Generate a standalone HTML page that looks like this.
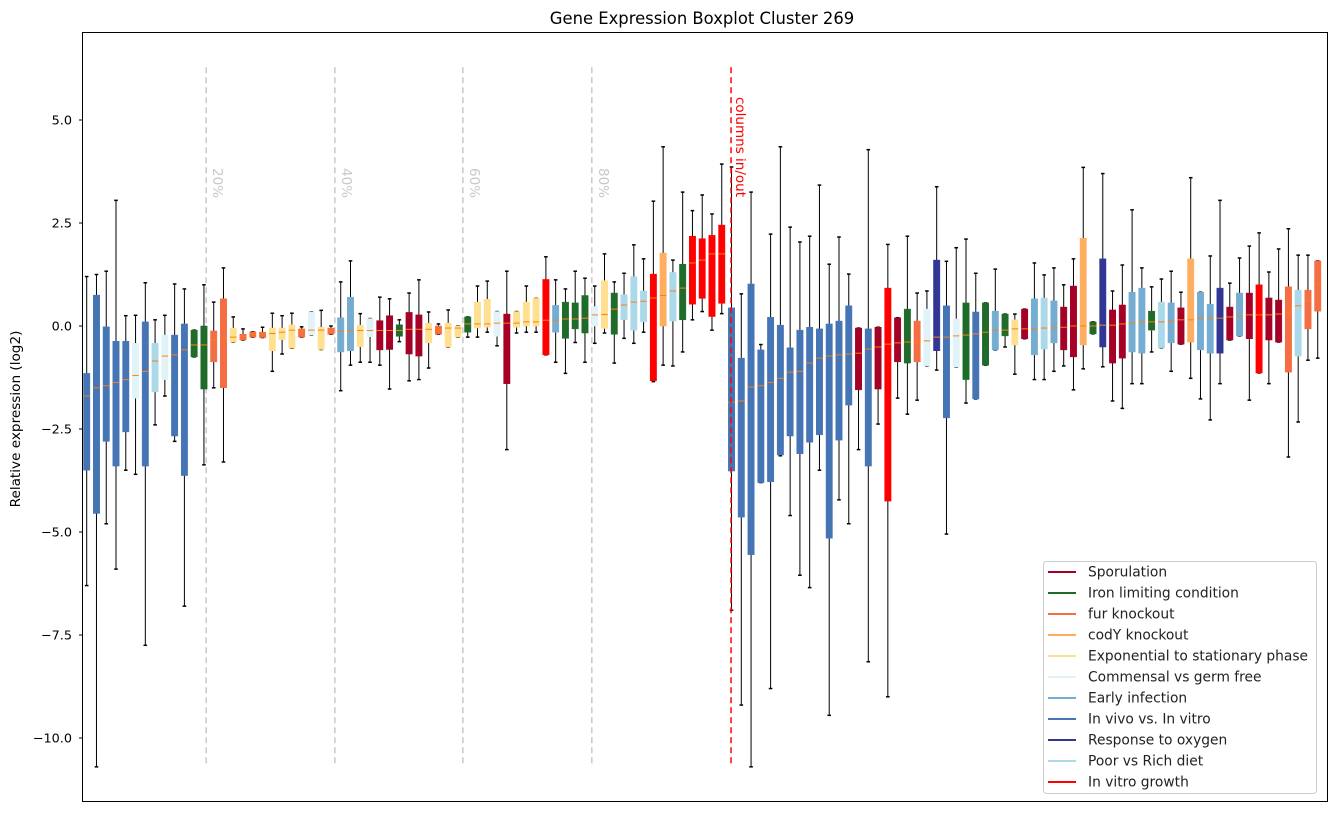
<!DOCTYPE html>
<html><head><meta charset="utf-8"><style>
body{margin:0;background:#fff;}
svg text{font-family:"DejaVu Sans","Liberation Sans",sans-serif;}
</style></head><body>
<svg id="chart" width="1331" height="812" xmlns="http://www.w3.org/2000/svg">
<text x="702" y="24" font-size="16.4" text-anchor="middle">Gene Expression Boxplot Cluster 269</text>
<text transform="translate(20,419) rotate(-90)" font-size="13.6" text-anchor="middle">Relative expression (log2)</text>
<g id="plot"></g>
<rect x="82.5" y="32.5" width="1245" height="769" fill="none" stroke="#000" stroke-width="1"/>
<g>
<rect x="1043.5" y="561.5" width="273" height="232" rx="3" fill="#fff" fill-opacity="0.9" stroke="#ccc"/>
<g id="legend-items"></g>
</g>
</svg>
<script>
const groupNames=["Sporulation","Iron limiting condition","fur knockout","codY knockout","Exponential to stationary phase","Commensal vs germ free","Early infection","In vivo vs. In vitro","Response to oxygen","Poor vs Rich diet","In vitro growth"];
const groupCodes=["S","I","F","C","E","M","A","V","O","P","R"];
const groupColors=["#a50026","#1f6b2a","#f46d43","#fdae61","#fee090","#e0f3f8","#74add1","#4575b4","#313695","#abd9e9","#ff0000"];
const boxGroups="V V V V V M V P M V V I I F F E F F F E E E F M E F A A E M S S I S S E F E E I E E M S E E E R A I I I M E I P P P R C P I R R R R V V V V V V V V V V V V V S V S R S I F M O V M I V I A I E S A P A S S C I O S S A A I P A S C A A O S A S R S S F P F F".split(" ");
const q3=[-1.15,0.75,-0.02,-0.37,-0.37,-0.42,0.1,-0.42,-0.22,-0.22,0.05,-0.1,0,-0.12,0.66,-0.05,-0.2,-0.14,-0.15,-0.05,-0.05,0.03,-0.07,0.34,-0.03,-0.05,0.2,0.7,0.02,0.18,0.13,0.25,0.03,0.33,0.27,0.07,0,0.07,0,0.22,0.58,0.65,0.35,0.29,0.35,0.58,0.67,1.13,0.5,0.58,0.56,0.74,0.47,1.1,0.8,0.76,1.2,0.85,1.26,1.77,1.3,1.5,2.18,2.12,2.2,2.45,0.44,-0.78,1.02,-0.58,0.21,0.02,-0.53,-0.1,-0.03,-0.07,0.05,0.12,0.49,-0.05,-0.07,-0.03,0.92,0.2,0.41,0.12,0.41,1.6,0.49,0.17,0.56,0.34,0.56,0.36,0.29,0.15,0.41,0.66,0.68,0.61,0.46,0.97,2.13,0.1,1.63,0.39,0.51,0.82,0.92,0.36,0.58,0.56,0.44,1.63,0.82,0.53,0.92,0.46,0.8,0.8,1.0,0.68,0.63,0.95,0.87,0.87,1.58];
const med=[-1.7,-1.5,-1.45,-1.37,-1.3,-1.2,-1.1,-0.85,-0.73,-0.7,-0.58,-0.46,-0.46,-0.34,-0.29,-0.27,-0.25,-0.2,-0.2,-0.18,-0.15,-0.1,-0.12,-0.1,-0.1,-0.12,-0.13,-0.11,-0.11,-0.11,-0.11,-0.11,-0.11,-0.08,-0.08,-0.08,-0.1,-0.05,-0.05,0.05,0.05,0.05,0.07,0.07,0.07,0.1,0.1,0.14,0.14,0.17,0.17,0.19,0.27,0.28,0.41,0.51,0.58,0.6,0.68,0.74,0.85,0.92,1.53,1.6,1.75,1.75,-1.85,-1.82,-1.48,-1.45,-1.37,-1.27,-1.12,-1.1,-0.9,-0.78,-0.73,-0.7,-0.68,-0.66,-0.56,-0.51,-0.44,-0.41,-0.39,-0.39,-0.36,-0.27,-0.27,-0.24,-0.22,-0.19,-0.15,-0.1,-0.1,-0.07,-0.07,-0.07,-0.05,-0.05,-0.03,0,0,0,0.02,0.02,0.05,0.07,0.1,0.1,0.1,0.12,0.15,0.15,0.19,0.19,0.19,0.22,0.24,0.27,0.27,0.27,0.29,0.31,0.49,0.61,1.02];
const q1=[-3.5,-4.55,-2.8,-3.4,-2.57,-1.75,-3.4,-1.6,-1.3,-2.67,-3.63,-0.75,-1.53,-0.87,-1.5,-0.39,-0.34,-0.27,-0.28,-0.6,-0.33,-0.54,-0.27,-0.22,-0.57,-0.2,-0.63,-0.6,-0.5,-0.26,-0.58,-0.57,-0.25,-0.68,-0.73,-0.41,-0.2,-0.51,-0.27,-0.15,-0.05,-0.03,-0.25,-1.4,-0.03,0,0,-0.7,-0.15,-0.3,-0.07,-0.17,0,-0.06,-0.2,0.15,-0.1,0.1,-1.33,0,0.12,0.15,0.53,0.67,0.23,0.55,-3.52,-4.64,-5.55,-3.8,-3.78,-3.13,-2.67,-3.1,-2.82,-2.64,-5.15,-2.77,-1.92,-1.55,-3.4,-1.53,-4.25,-0.87,-0.9,-0.87,-0.97,-0.6,-2.23,-1.0,-1.3,-1.77,-0.95,-0.58,-0.24,-0.46,-0.31,-0.7,-0.56,-0.41,-0.58,-0.75,-0.46,-0.19,-0.51,-0.9,-0.78,-0.63,-0.66,-0.1,-0.53,-0.41,-0.44,-0.39,-0.58,-0.66,-0.66,-0.34,-0.24,-0.31,-1.14,-0.34,-0.39,-1.12,-0.73,-0.07,0.36];
const whiskHi=[1.2,1.25,1.33,3.05,0.25,0.26,1.05,0.15,0.26,1.02,0.9,-0.1,1.0,0.58,1.41,0.22,-0.07,-0.14,-0.03,0.31,0.25,0.31,-0.02,0.34,0.38,0.0,1.07,1.58,0.3,0.18,0.7,0.66,0.15,0.8,1.12,0.34,0.05,0.39,0.0,0.22,0.97,1.09,0.35,1.33,0.35,0.97,0.67,1.68,1.12,0.9,1.33,1.16,0.97,1.75,1.07,1.28,1.97,1.63,3.03,4.35,1.6,3.25,2.8,3.18,2.72,3.93,3.86,0.78,3.25,-0.45,2.23,4.35,2.4,2.04,2.18,3.42,1.5,2.16,1.26,-0.05,4.28,-0.03,1.98,0.2,2.18,0.8,0.85,3.38,1.57,1.9,2.11,1.28,0.56,1.38,0.29,0.29,0.41,1.53,1.24,1.41,1.0,1.63,3.85,0.1,3.7,0.85,1.48,2.82,1.41,0.95,1.14,1.33,0.82,3.6,0.82,1.7,3.05,1.04,1.65,1.94,2.26,1.31,1.87,2.36,1.72,1.72,1.58];
const whiskLo=[-6.3,-10.7,-4.8,-5.9,-3.5,-3.6,-7.75,-2.4,-1.7,-2.8,-6.8,-0.75,-3.37,-1.5,-3.3,-0.39,-0.34,-0.27,-0.28,-1.1,-0.68,-0.54,-0.27,-0.22,-0.57,-0.2,-1.57,-0.95,-0.88,-0.88,-0.95,-1.53,-0.38,-1.33,-1.3,-1.02,-0.2,-0.51,-0.27,-0.27,-0.27,-0.15,-0.48,-3.0,-0.17,-0.15,-0.15,-0.7,-0.88,-1.15,-0.4,-0.88,-0.42,-0.17,-0.9,-0.3,-0.42,-0.15,-1.35,-0.95,-0.97,-0.63,0.15,0.35,-0.1,0.3,-6.9,-9.2,-10.7,-3.8,-8.8,-3.15,-4.6,-6.05,-6.35,-3.5,-9.45,-4.22,-4.8,-3.0,-8.15,-2.38,-9.0,-1.75,-2.14,-1.8,-0.97,-1.07,-5.05,-1.0,-1.87,-1.77,-0.95,-0.58,-0.51,-1.17,-0.31,-1.3,-1.3,-1.1,-0.97,-1.55,-1.04,-0.19,-0.99,-1.82,-2.0,-1.4,-1.4,-0.63,-0.53,-1.1,-0.44,-1.27,-1.77,-2.28,-1.4,-0.34,-0.24,-1.8,-1.14,-1.4,-0.39,-3.18,-2.33,-0.83,-0.78];
const yTicks=[5,2.5,0,-2.5,-5,-7.5,-10];
const yTickLabels=["5.0","2.5","0.0","\u22122.5","\u22125.0","\u22127.5","\u221210.0"];
const pctLines=[12.23,25.4,38.5,51.7];
const pctLabels=["20%","40%","60%","80%"];
const splitPos=65.95;

const NS="http://www.w3.org/2000/svg";
const sx=i=>86.7+9.77*i;
const sy=v=>326-41.2*v;
const plot=document.getElementById('plot');
function mk(tag,attrs,parent){const e=document.createElementNS(NS,tag);for(const k in attrs)e.setAttribute(k,attrs[k]);(parent||plot).appendChild(e);return e;}
const svg=document.getElementById('chart');

yTicks.forEach((t,k)=>{
  const y=sy(t);
  const tk=mk('line',{x1:79,x2:82.5,y1:y,y2:y,stroke:'#000'},svg);
  
  
  const tx=mk('text',{x:72,y:y+4.5,'font-size':12.8,'text-anchor':'end'},svg);
  tx.textContent=yTickLabels[k];
  
  
});

pctLines.forEach((p,k)=>{
  const x=sx(p);
  const l=mk('line',{x1:x,x2:x,y1:sy(6.28),y2:sy(-10.7),stroke:'#c8c8c8','stroke-width':1.5,'stroke-dasharray':'6,4'});
  
  
  const t=mk('text',{transform:`translate(${x+7},168) rotate(90)`,'font-size':13.5,fill:'#c8c8c8'});
  t.textContent=pctLabels[k];
  
  
});

med.forEach((m,i)=>{
  const x=sx(i);
  const col=groupColors[groupCodes.indexOf(boxGroups[i])];
  const g=mk('g',{});
  
  
  mk('line',{x1:x,x2:x,y1:sy(whiskHi[i]),y2:sy(q3[i]),stroke:'#000','stroke-width':1},g);
  mk('line',{x1:x,x2:x,y1:sy(q1[i]),y2:sy(whiskLo[i]),stroke:'#000','stroke-width':1},g);
  mk('line',{x1:x-1.8,x2:x+1.8,y1:sy(whiskHi[i]),y2:sy(whiskHi[i]),stroke:'#000','stroke-width':1.5},g);
  mk('line',{x1:x-1.8,x2:x+1.8,y1:sy(whiskLo[i]),y2:sy(whiskLo[i]),stroke:'#000','stroke-width':1.5},g);
  mk('rect',{x:x-3.2,y:sy(q3[i]),width:6.4,height:Math.max(1,sy(q1[i])-sy(q3[i])),fill:col,stroke:col,'stroke-width':0.5},g);
  mk('line',{x1:x-3.2,x2:x+3.2,y1:sy(m),y2:sy(m),stroke:'#ff7f0e','stroke-width':1},g);
});

const sxp=sx(splitPos);
const rl=mk('line',{x1:sxp,x2:sxp,y1:sy(6.28),y2:sy(-10.7),stroke:'#ff0000','stroke-width':1.5,'stroke-dasharray':'6,4'});


const rt=mk('text',{transform:`translate(${sxp+5},97) rotate(90)`,'font-size':13.5,fill:'#ff0000'});
rt.textContent='columns in/out';



const lg=document.getElementById('legend-items');
groupNames.forEach((n,k)=>{
  const y=572+21*k;
  const g=mk('g',{},lg);
  
  
  mk('line',{x1:1048,x2:1076,y1:y,y2:y,stroke:groupColors[k],'stroke-width':2},g);
  const t=mk('text',{x:1088,y:y+4.5,'font-size':13.8,fill:'#222'},g);
  t.textContent=n;
});
</script>
</body></html>
